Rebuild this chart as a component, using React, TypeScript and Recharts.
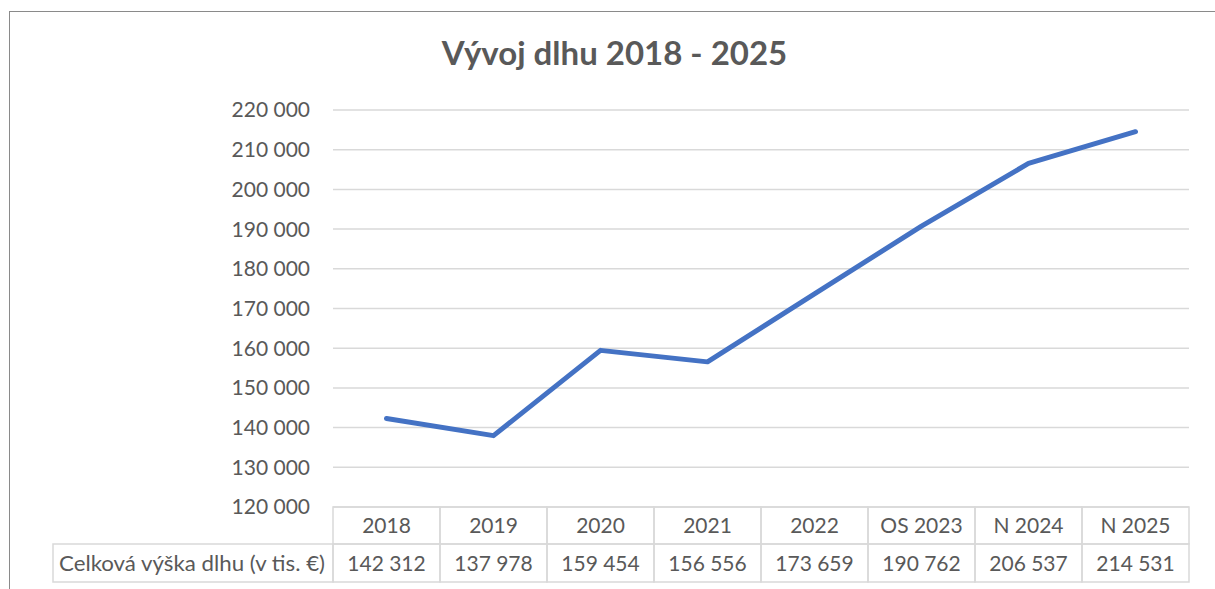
import React from 'react';
import { LineChart, Line, XAxis, YAxis, CartesianGrid } from 'recharts';

const chartTitle = 'Vývoj dlhu 2018 - 2025';
const seriesName = 'Celková výška dlhu (v tis. €)';
const categories = ['2018', '2019', '2020', '2021', '2022', 'OS 2023', 'N 2024', 'N 2025'];
const debtValues = [142312, 137978, 159454, 156556, 173659, 190762, 206537, 214531];
const yTicks = [120000, 130000, 140000, 150000, 160000, 170000, 180000, 190000, 200000, 210000, 220000];

const data = categories.map((c, i) => ({ category: c, value: debtValues[i] }));

const W = 1215;
const H = 589;
const MARGIN = { top: 110, right: 26, bottom: 0, left: 0 };
const Y_AXIS_W = 333;
const X_AXIS_H = 82;
const PLOT_W = W - MARGIN.left - MARGIN.right - Y_AXIS_W;
const BAND = PLOT_W / categories.length;
const ROW1 = 37;
const ROW2 = 38;
const LABEL_CELL_W = 280;

const FONT = 'Lato, "Open Sans", sans-serif';
const TEXT_COLOR = '#595959';
const GRID_COLOR = '#D9D9D9';
const FS = 21;

const fmt = (n: number) => String(n).replace(/\B(?=(\d{3})+(?!\d))/g, ' ');

function TableTick(props: any) {
  const { x, y, payload } = props;
  const i = payload.index;
  const left = x - BAND / 2;
  return (
    <g>
      <rect x={left} y={y} width={BAND} height={ROW1} fill="none" stroke={GRID_COLOR} strokeWidth={1.5} />
      <rect x={left} y={y + ROW1} width={BAND} height={ROW2} fill="none" stroke={GRID_COLOR} strokeWidth={1.5} />
      <text x={x} y={y + ROW1 / 2} dy="0.36em" textAnchor="middle" fill={TEXT_COLOR} fontSize={FS} fontFamily={FONT}>
        {payload.value}
      </text>
      <text x={x} y={y + ROW1 + ROW2 / 2} dy="0.36em" textAnchor="middle" fill={TEXT_COLOR} fontSize={FS} fontFamily={FONT}>
        {fmt(debtValues[i])}
      </text>
      {i === 0 && (
        <g>
          <rect x={left - LABEL_CELL_W} y={y + ROW1} width={LABEL_CELL_W} height={ROW2} fill="none" stroke={GRID_COLOR} strokeWidth={1.5} />
          <text
            x={left - LABEL_CELL_W + 6}
            y={y + ROW1 + ROW2 / 2}
            dy="0.36em"
            textAnchor="start"
            textLength={266}
            lengthAdjust="spacingAndGlyphs"
            fill={TEXT_COLOR}
            fontSize={FS}
            fontFamily={FONT}
          >
            {seriesName}
          </text>
        </g>
      )}
    </g>
  );
}

export default function App() {
  return (
    <div style={{ position: 'absolute', left: 0, top: 0, width: W, height: H, overflow: 'hidden', background: '#fff' }}>
      <div
        style={{
          position: 'absolute',
          left: 9,
          top: 11,
          width: W + 100,
          height: H + 100,
          border: '1.5px solid #8a8a8a',
          boxSizing: 'border-box',
        }}
      />
      <div
        style={{
          position: 'absolute',
          left: 0,
          top: 32,
          width: 1229,
          textAlign: 'center',
          fontFamily: FONT,
          fontWeight: 700,
          fontSize: 33,
          color: TEXT_COLOR,
          lineHeight: '40px',
        }}
      >
        {chartTitle}
      </div>
      <div style={{ position: 'absolute', left: 0, top: 0 }}>
        <LineChart width={W} height={H} data={data} margin={MARGIN}>
          <CartesianGrid horizontal vertical={false} stroke={GRID_COLOR} strokeWidth={1.5} />
          <XAxis
            dataKey="category"
            scale="band"
            interval={0}
            axisLine={false}
            tickLine={false}
            tickSize={0}
            tickMargin={0}
            height={X_AXIS_H}
            tick={<TableTick />}
          />
          <YAxis
            domain={[120000, 220000]}
            ticks={yTicks}
            width={Y_AXIS_W}
            axisLine={false}
            tickLine={false}
            tickSize={0}
            tickMargin={23}
            tickFormatter={fmt}
            tick={{ fill: TEXT_COLOR, fontSize: FS, fontFamily: FONT }}
          />
          <Line
            type="linear"
            dataKey="value"
            stroke="#4472C4"
            strokeWidth={5}
            strokeLinecap="round"
            strokeLinejoin="round"
            dot={false}
            activeDot={false}
            isAnimationActive={false}
          />
        </LineChart>
      </div>
    </div>
  );
}
